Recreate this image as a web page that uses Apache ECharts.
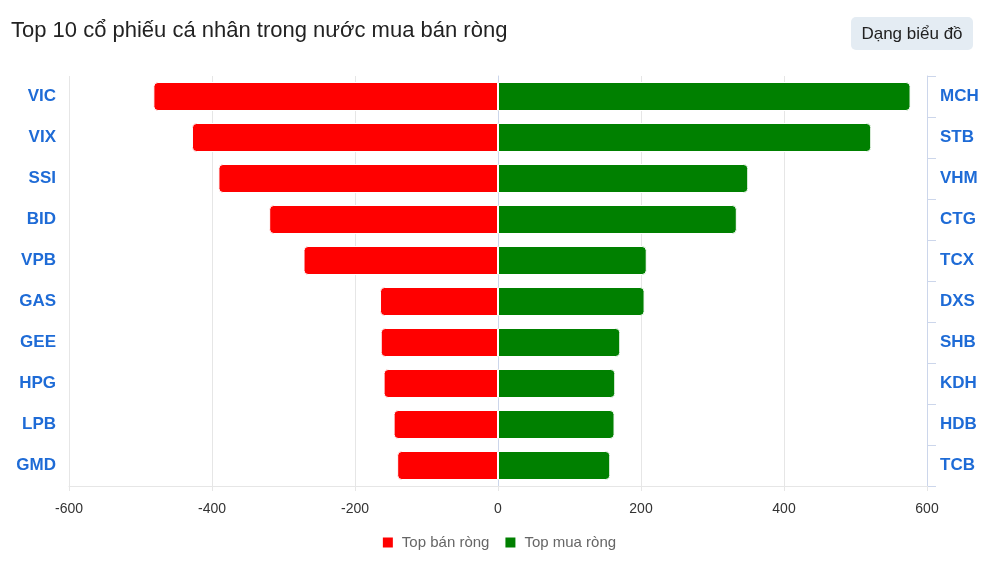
<!DOCTYPE html>
<html>
<head>
<meta charset="utf-8">
<script src="https://cdn.jsdelivr.net/npm/echarts@6/dist/echarts.min.js"></script>
<style>
html,body{margin:0;padding:0;background:#fff;}
#chart{width:997px;height:561px;}
</style>
</head>
<body>
<div id="chart"></div>
<script>
const leftCategories = ['VIC','VIX','SSI','BID','VPB','GAS','GEE','HPG','LPB','GMD'];
const rightCategories = ['MCH','STB','VHM','CTG','TCX','DXS','SHB','KDH','HDB','TCB'];
const sellValues = [-482, -428, -391, -320, -272, -165, -164, -160, -146, -141];
const buyValues = [577, 522, 350, 334, 208, 205, 171, 164, 163, 157];
const xTicks = {min: -600, max: 600, interval: 200};
const titleText = 'Top 10 cổ phiếu cá nhân trong nước mua bán ròng';
const buttonText = 'Dạng biểu đồ';
const seriesNames = ['Top bán ròng', 'Top mua ròng'];

const chart = echarts.init(document.getElementById('chart'));
const catLabel = {color: '#1e6bd6', fontSize: 17, fontWeight: 'bold', fontFamily: 'Liberation Sans', margin: 13};
chart.setOption({
  animation: false,
  title: {text: titleText, left: 6, top: 15, textStyle: {fontFamily: 'Liberation Sans', fontSize: 22, fontWeight: 'normal', color: '#222'}},
  graphic: [{
    type: 'group', left: 851, top: 17,
    children: [
      {type: 'rect', shape: {x: 0, y: 0, width: 122, height: 33, r: 5}, style: {fill: '#e4ecf3'}},
      {type: 'text', x: 61, y: 17, style: {text: buttonText, fill: '#222', font: '17px "Liberation Sans"', align: 'center', verticalAlign: 'middle'}}
    ]
  }],
  legend: {
    top: 530, left: 'center', itemWidth: 12, itemHeight: 12, itemGap: 14,
    icon: 'rect',
    textStyle: {fontFamily: 'Liberation Sans', fontSize: 15, color: '#666', padding: [0, 0, 0, 3]},
    data: seriesNames
  },
  grid: {left: 69, right: 70, top: 76, bottom: 75, containLabel: false},
  xAxis: {
    type: 'value', min: xTicks.min, max: xTicks.max, interval: xTicks.interval,
    axisLine: {show: true, lineStyle: {color: '#e6e6e6'}},
    axisTick: {show: true, length: 5, lineStyle: {color: '#e6e6e6'}},
    splitLine: {show: true, lineStyle: {color: '#e6e6e6'}},
    axisLabel: {color: '#333', fontSize: 14, fontFamily: 'Liberation Sans', margin: 16}
  },
  yAxis: [{
    type: 'category', data: leftCategories, inverse: true, position: 'left',
    axisLine: {show: true, lineStyle: {color: '#ccd6eb'}},
    axisTick: {show: false},
    axisLabel: catLabel
  }, {
    type: 'category', data: rightCategories, inverse: true, position: 'right',
    axisLine: {show: true, lineStyle: {color: '#ccd6eb'}},
    axisTick: {show: true, length: 9, lineStyle: {color: '#ccd6eb'}},
    axisLabel: catLabel
  }],
  series: [{
    name: seriesNames[0], type: 'bar', yAxisIndex: 0, data: sellValues, barWidth: 29,
    itemStyle: {color: '#ff0000', borderRadius: [4, 0, 0, 4], borderColor: '#fff', borderWidth: 1}
  }, {
    name: seriesNames[1], type: 'bar', yAxisIndex: 1, data: buyValues, barWidth: 29,
    itemStyle: {color: '#008000', borderRadius: [0, 4, 4, 0], borderColor: '#fff', borderWidth: 1}
  }]
});
</script>
</body>
</html>
